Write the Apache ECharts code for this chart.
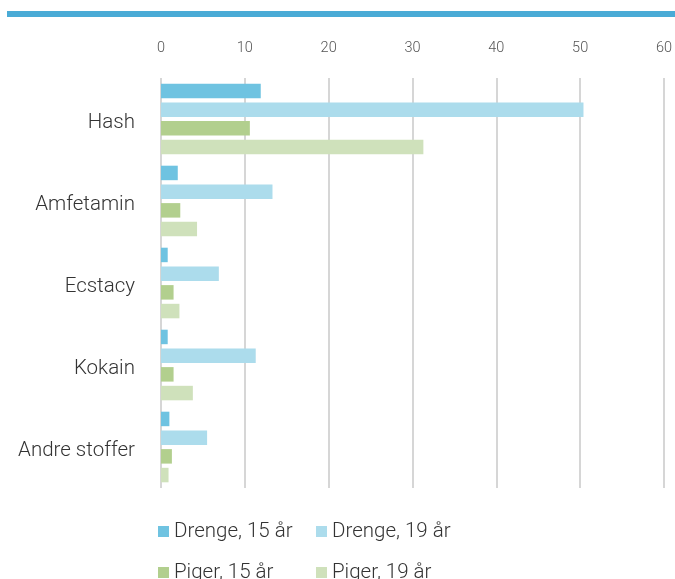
<!DOCTYPE html>
<html><head><meta charset="utf-8">
<script src="https://cdn.jsdelivr.net/npm/echarts@6/dist/echarts.min.js"></script>
<style>html,body{margin:0;padding:0;background:#fff}#c{width:675px;height:579px}</style>
</head><body><div id="c"></div>
<script>
const categories = ["Hash", "Amfetamin", "Ecstacy", "Kokain", "Andre stoffer"];
const seriesNames = ["Drenge, 15 år", "Drenge, 19 år", "Piger, 15 år", "Piger, 19 år"];
const drenge15 = [11.9, 2.0, 0.8, 0.8, 1.0];
const drenge19 = [50.4, 13.3, 6.9, 11.3, 5.5];
const piger15 = [10.6, 2.3, 1.5, 1.5, 1.3];
const piger19 = [31.3, 4.3, 2.2, 3.8, 0.9];
const xTicks = [0, 10, 20, 30, 40, 50, 60];
const colors = ["#6fc3e1", "#acdcec", "#b2cf8e", "#cfe1bb"];

const values = [drenge15, drenge19, piger15, piger19];
const font = "Roboto";
const chart = echarts.init(document.getElementById('c'), null, {renderer: 'canvas'});
const legendPos = [[158, 521], [316, 521], [158, 562], [316, 562]];
chart.setOption({
  animation: false,
  graphic: [{type: 'rect', shape: {x: 7, y: 11, width: 668, height: 6}, style: {fill: '#4aabd6'}}],
  grid: {left: 161, right: 11, top: 78, height: 410, containLabel: false},
  xAxis: {
    type: 'value', position: 'top', min: xTicks[0], max: xTicks[xTicks.length - 1], interval: 10,
    axisLine: {show: false}, axisTick: {show: false},
    axisLabel: {margin: 22, color: '#555', fontFamily: font, fontWeight: 300, fontSize: 14.5},
    splitLine: {show: true, lineStyle: {color: '#c8c8c8', width: 1.5}}
  },
  yAxis: {
    type: 'category', data: categories, inverse: true,
    axisLine: {show: false}, axisTick: {show: false},
    axisLabel: {margin: 26, color: '#333', fontFamily: font, fontWeight: 300, fontSize: 20.5, verticalAlign: 'top', lineHeight: 8}
  },
  legend: seriesNames.map((n, i) => ({
    data: [n], left: legendPos[i][0], top: legendPos[i][1], icon: 'rect',
    itemWidth: 11, itemHeight: 11, itemGap: 0, padding: 0,
    textStyle: {color: '#333', fontFamily: font, fontWeight: 300, fontSize: 20.5}
  })),
  series: seriesNames.map((n, i) => ({
    name: n, type: 'bar', data: values[i], barWidth: 14.5, barGap: '29%',
    itemStyle: {color: colors[i]}
  }))
});
</script></body></html>
